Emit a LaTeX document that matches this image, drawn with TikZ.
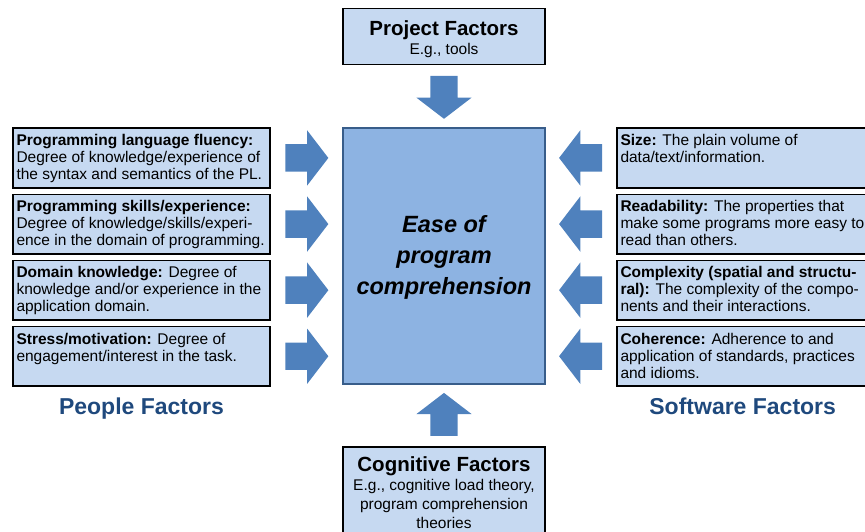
\documentclass[tikz,border=0pt]{standalone}
\usepackage{fontspec}
\setmainfont{Liberation Sans}
\usetikzlibrary{shapes, shapes.arrows, positioning, calc}

\definecolor{boxfill}{HTML}{C6D9F1}
\definecolor{easefill}{HTML}{8DB3E2}
\definecolor{easeline}{HTML}{385D8A}
\definecolor{arrowblue}{HTML}{4F81BD}
\definecolor{labelblue}{HTML}{1F497D}

\newcommand{\factortext}[2][250pt]{\parbox[t][51.5pt][t]{#1}{\raggedright\rule{0pt}{13.5pt}#2}}

\begin{document}
\begin{tikzpicture}[x=1pt, y=-1pt,
		factor/.style={rectangle, draw, line width=1.6pt, fill=boxfill, inner xsep=3.5pt, inner ysep=4pt, font=\fontsize{15.5}{17}\selectfont},
		bigarrow/.style={single arrow, fill=arrowblue, inner sep=0pt, text width=0pt, text height=13.5pt, text depth=13.5pt, minimum width=55pt, minimum height=43pt, single arrow head extend=14pt, single arrow tip angle=105, sloped, allow upside down, pos=0.43},
		side/.style={font=\fontsize{23}{27}\selectfont\bfseries, text=labelblue}]
			\clip (0,0) rectangle (865,532);
			
			\node[rectangle, draw=easeline, line width=1.2pt, fill=easefill, minimum width=202pt, minimum height=256pt, align=center, font=\fontsize{23.5}{31}\selectfont\bfseries\itshape] (ease) at (444,256) {\rule{0pt}{20pt}Ease of\\program\\comprehension};
			
			% people factors
			\node[factor, left=71.6pt of ease.north west, anchor=north east] (plf) {\factortext{\textbf{Programming language fluency:}\\Degree of knowledge/experience of\\the syntax and semantics of the PL.}};
			\node[factor, below=5pt of plf] (pse) {\factortext{\textbf{Programming skills/experience:}\\Degree of knowledge/skills/experi-\\ence in the domain of programming.}};
			\node[factor, below=5pt of pse] (dom) {\factortext{\textbf{Domain knowledge:} Degree of\\knowledge and/or experience in the\\application domain.}};
			\node[factor, below=5pt of dom] (stm) {\factortext{\textbf{Stress/motivation:} Degree of\\engagement/interest in the task.}};
			\node[side, below=7pt of stm] (people) {People Factors};
			
			% software factors
			\node[factor, right=70.6pt of ease.north east, anchor=north west] (size) {\factortext[262pt]{\textbf{Size:} The plain volume of\\data/text/information.}};
			\node[factor, below=5pt of size] (read) {\factortext[262pt]{\textbf{Readability:} The properties that\\make some programs more easy to\\read than others.}};
			\node[factor, below=5pt of read] (cplx) {\factortext[262pt]{\textbf{Complexity (spatial and structu-\\ral):} The complexity of the compo-\\nents and their interactions.}};
			\node[factor, below=5pt of cplx] (coh) {\factortext[262pt]{\textbf{Coherence:} Adherence to and\\application of standards, practices\\and idioms.}};
			\node[side, below=7pt of coh.south west, anchor=north, xshift=126.5pt] (software) {Software Factors};
			
			% project and cognitive factors
			\node[factor, minimum width=202pt, minimum height=56pt, align=center, font=\fontsize{15.5}{19}\selectfont, above=62pt of ease] (proj) {{\fontsize{20.5}{19}\selectfont\bfseries\rule{0pt}{21pt}Project Factors}\\E.g., tools};
			\node[factor, minimum width=202pt, inner ysep=10pt, align=center, font=\fontsize{15.5}{19}\selectfont, below=61.5pt of ease] (cog) {{\fontsize{20.5}{19}\selectfont\bfseries Cognitive Factors}\\E.g., cognitive load theory,\\program comprehension\\theories};
			
			\foreach \n in {plf, pse, dom, stm}
				\path (\n.east) -- node[bigarrow] {} (\n.east -| ease.west);
			\foreach \n in {size, read, cplx, coh}
				\path (\n.west) -- node[bigarrow] {} (\n.west -| ease.east);
			\path (proj.south) -- node[bigarrow] {} (ease.north);
			\path (cog.north) -- node[bigarrow] {} (ease.south);
		\end{tikzpicture}
\end{document}
